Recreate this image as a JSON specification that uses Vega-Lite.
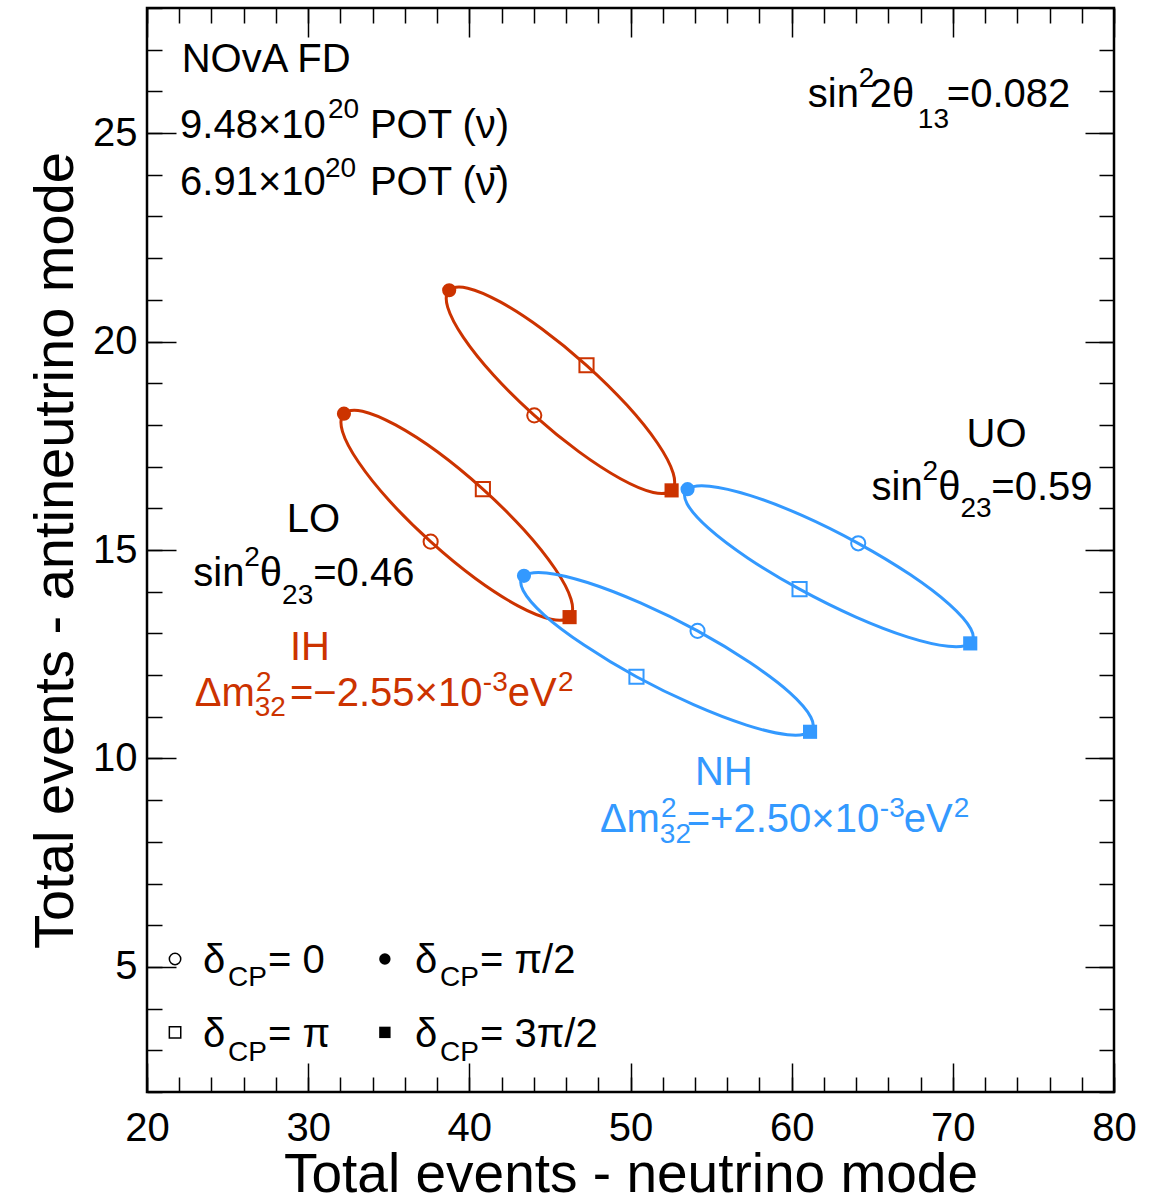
{
  "$schema": "https://vega.github.io/schema/vega-lite/v6.json",
  "width": 967,
  "height": 1084,
  "autosize": {"type": "none"},
  "padding": {"left": 147, "top": 8, "right": 39, "bottom": 111},
  "background": "white",
  "config": {
    "view": {"stroke": "black", "strokeWidth": 2.5},
    "font": "Liberation Sans",
    "axis": {
      "domain": false,
      "grid": false,
      "tickColor": "black",
      "tickWidth": 1.5,
      "labelColor": "black",
      "labelFont": "Liberation Sans",
      "titleFont": "Liberation Sans",
      "titleColor": "black",
      "titleFontWeight": "normal"
    }
  },
  "datasets": {
    "curve": [
      {"e": "ihuo", "g": "ih", "k": 0, "x": 44.03, "y": 18.23, "dcp": "0"},
      {"e": "ihuo", "g": "ih", "k": 1, "x": 41.51, "y": 19.19},
      {"e": "ihuo", "g": "ih", "k": 2, "x": 39.63, "y": 20.10},
      {"e": "ihuo", "g": "ih", "k": 3, "x": 38.66, "y": 20.82},
      {"e": "ihuo", "g": "ih", "k": 4, "x": 38.75, "y": 21.23, "dcp": "π/2"},
      {"e": "ihuo", "g": "ih", "k": 5, "x": 39.90, "y": 21.28},
      {"e": "ihuo", "g": "ih", "k": 6, "x": 41.92, "y": 20.95},
      {"e": "ihuo", "g": "ih", "k": 7, "x": 44.51, "y": 20.30},
      {"e": "ihuo", "g": "ih", "k": 8, "x": 47.27, "y": 19.43, "dcp": "π"},
      {"e": "ihuo", "g": "ih", "k": 9, "x": 49.79, "y": 18.47},
      {"e": "ihuo", "g": "ih", "k": 10, "x": 51.68, "y": 17.56},
      {"e": "ihuo", "g": "ih", "k": 11, "x": 52.65, "y": 16.84},
      {"e": "ihuo", "g": "ih", "k": 12, "x": 52.55, "y": 16.43, "dcp": "3π/2"},
      {"e": "ihuo", "g": "ih", "k": 13, "x": 51.41, "y": 16.38},
      {"e": "ihuo", "g": "ih", "k": 14, "x": 49.38, "y": 16.71},
      {"e": "ihuo", "g": "ih", "k": 15, "x": 46.79, "y": 17.36},

      {"e": "ihlo", "g": "ih", "k": 0, "x": 37.60, "y": 15.20, "dcp": "0"},
      {"e": "ihlo", "g": "ih", "k": 1, "x": 35.04, "y": 16.18},
      {"e": "ihlo", "g": "ih", "k": 2, "x": 33.12, "y": 17.11},
      {"e": "ihlo", "g": "ih", "k": 3, "x": 32.13, "y": 17.84},
      {"e": "ihlo", "g": "ih", "k": 4, "x": 32.22, "y": 18.27, "dcp": "π/2"},
      {"e": "ihlo", "g": "ih", "k": 5, "x": 33.37, "y": 18.33},
      {"e": "ihlo", "g": "ih", "k": 6, "x": 35.42, "y": 18.00},
      {"e": "ihlo", "g": "ih", "k": 7, "x": 38.04, "y": 17.35},
      {"e": "ihlo", "g": "ih", "k": 8, "x": 40.84, "y": 16.46, "dcp": "π"},
      {"e": "ihlo", "g": "ih", "k": 9, "x": 43.40, "y": 15.48},
      {"e": "ihlo", "g": "ih", "k": 10, "x": 45.32, "y": 14.55},
      {"e": "ihlo", "g": "ih", "k": 11, "x": 46.31, "y": 13.82},
      {"e": "ihlo", "g": "ih", "k": 12, "x": 46.22, "y": 13.39, "dcp": "3π/2"},
      {"e": "ihlo", "g": "ih", "k": 13, "x": 45.07, "y": 13.34},
      {"e": "ihlo", "g": "ih", "k": 14, "x": 43.02, "y": 13.66},
      {"e": "ihlo", "g": "ih", "k": 15, "x": 40.40, "y": 14.31},

      {"e": "nhuo", "g": "nh", "k": 0, "x": 64.13, "y": 15.16, "dcp": "0"},
      {"e": "nhuo", "g": "nh", "k": 1, "x": 60.64, "y": 15.83},
      {"e": "nhuo", "g": "nh", "k": 2, "x": 57.40, "y": 16.31},
      {"e": "nhuo", "g": "nh", "k": 3, "x": 54.90, "y": 16.53},
      {"e": "nhuo", "g": "nh", "k": 4, "x": 53.54, "y": 16.46, "dcp": "π/2"},
      {"e": "nhuo", "g": "nh", "k": 5, "x": 53.51, "y": 16.11},
      {"e": "nhuo", "g": "nh", "k": 6, "x": 54.82, "y": 15.53},
      {"e": "nhuo", "g": "nh", "k": 7, "x": 57.27, "y": 14.81},
      {"e": "nhuo", "g": "nh", "k": 8, "x": 60.49, "y": 14.06, "dcp": "π"},
      {"e": "nhuo", "g": "nh", "k": 9, "x": 63.99, "y": 13.39},
      {"e": "nhuo", "g": "nh", "k": 10, "x": 67.22, "y": 12.91},
      {"e": "nhuo", "g": "nh", "k": 11, "x": 69.72, "y": 12.69},
      {"e": "nhuo", "g": "nh", "k": 12, "x": 71.08, "y": 12.76, "dcp": "3π/2"},
      {"e": "nhuo", "g": "nh", "k": 13, "x": 71.11, "y": 13.11},
      {"e": "nhuo", "g": "nh", "k": 14, "x": 69.80, "y": 13.69},
      {"e": "nhuo", "g": "nh", "k": 15, "x": 67.35, "y": 14.41},

      {"e": "nhlo", "g": "nh", "k": 0, "x": 54.16, "y": 13.06, "dcp": "0"},
      {"e": "nhlo", "g": "nh", "k": 1, "x": 50.62, "y": 13.73},
      {"e": "nhlo", "g": "nh", "k": 2, "x": 47.33, "y": 14.22},
      {"e": "nhlo", "g": "nh", "k": 3, "x": 44.79, "y": 14.45},
      {"e": "nhlo", "g": "nh", "k": 4, "x": 43.39, "y": 14.38, "dcp": "π/2"},
      {"e": "nhlo", "g": "nh", "k": 5, "x": 43.34, "y": 14.03},
      {"e": "nhlo", "g": "nh", "k": 6, "x": 44.65, "y": 13.44},
      {"e": "nhlo", "g": "nh", "k": 7, "x": 47.12, "y": 12.72},
      {"e": "nhlo", "g": "nh", "k": 8, "x": 50.37, "y": 11.96, "dcp": "π"},
      {"e": "nhlo", "g": "nh", "k": 9, "x": 53.91, "y": 11.29},
      {"e": "nhlo", "g": "nh", "k": 10, "x": 57.20, "y": 10.80},
      {"e": "nhlo", "g": "nh", "k": 11, "x": 59.74, "y": 10.57},
      {"e": "nhlo", "g": "nh", "k": 12, "x": 61.14, "y": 10.64, "dcp": "3π/2"},
      {"e": "nhlo", "g": "nh", "k": 13, "x": 61.19, "y": 10.99},
      {"e": "nhlo", "g": "nh", "k": 14, "x": 59.88, "y": 11.58},
      {"e": "nhlo", "g": "nh", "k": 15, "x": 57.41, "y": 12.30}
    ],
    "legend": [
      {"x": 21.74, "y": 5.19, "dcp": "0"},
      {"x": 34.76, "y": 5.19, "dcp": "π/2"},
      {"x": 21.74, "y": 3.43, "dcp": "π"},
      {"x": 34.76, "y": 3.43, "dcp": "3π/2"}
    ],
    "labels": [
      {"s": "b", "g": "k", "x": 22.15, "y": 26.47, "t": "NOvA FD"},
      {"s": "b", "g": "k", "x": 22.05, "y": 24.87, "t": "9.48×10"},
      {"s": "b", "g": "k", "x": 33.83, "y": 24.87, "t": "POT (ν)"},
      {"s": "b", "g": "k", "x": 22.05, "y": 23.51, "t": "6.91×10"},
      {"s": "b", "g": "k", "x": 33.83, "y": 23.51, "t": "POT (ν̄)"},
      {"s": "b", "g": "k", "x": 61.00, "y": 25.63, "t": "sin"},
      {"s": "b", "g": "k", "x": 64.85, "y": 25.63, "t": "2θ"},
      {"s": "b", "g": "k", "x": 69.63, "y": 25.63, "t": "=0.082"},
      {"s": "b", "g": "k", "x": 70.85, "y": 17.48, "t": "UO"},
      {"s": "b", "g": "k", "x": 64.96, "y": 16.21, "t": "sin"},
      {"s": "b", "g": "k", "x": 69.09, "y": 16.21, "t": "θ"},
      {"s": "b", "g": "k", "x": 72.39, "y": 16.21, "t": "=0.59"},
      {"s": "b", "g": "k", "x": 28.67, "y": 15.44, "t": "LO"},
      {"s": "b", "g": "k", "x": 22.87, "y": 14.13, "t": "sin"},
      {"s": "b", "g": "k", "x": 27.00, "y": 14.13, "t": "θ"},
      {"s": "b", "g": "k", "x": 30.31, "y": 14.13, "t": "=0.46"},
      {"s": "b", "g": "ih", "x": 28.87, "y": 12.35, "t": "IH"},
      {"s": "b", "g": "ih", "x": 22.96, "y": 11.27, "t": "Δm"},
      {"s": "b", "g": "ih", "x": 28.87, "y": 11.27, "t": "=−2.55×10"},
      {"s": "b", "g": "ih", "x": 42.39, "y": 11.27, "t": "eV"},
      {"s": "b", "g": "nh", "x": 54.00, "y": 9.36, "t": "NH"},
      {"s": "b", "g": "nh", "x": 48.10, "y": 8.23, "t": "Δm"},
      {"s": "b", "g": "nh", "x": 53.49, "y": 8.23, "t": "=+2.50×10"},
      {"s": "b", "g": "nh", "x": 66.96, "y": 8.23, "t": "eV"},
      {"s": "b", "g": "k", "x": 23.47, "y": 4.85, "t": "δ"},
      {"s": "b", "g": "k", "x": 27.51, "y": 4.85, "t": "= 0"},
      {"s": "b", "g": "k", "x": 36.63, "y": 4.85, "t": "δ"},
      {"s": "b", "g": "k", "x": 40.66, "y": 4.85, "t": "= π/2"},
      {"s": "b", "g": "k", "x": 23.47, "y": 3.09, "t": "δ"},
      {"s": "b", "g": "k", "x": 27.51, "y": 3.09, "t": "= π"},
      {"s": "b", "g": "k", "x": 36.63, "y": 3.09, "t": "δ"},
      {"s": "b", "g": "k", "x": 40.66, "y": 3.09, "t": "= 3π/2"},
      {"s": "s", "g": "k", "x": 31.23, "y": 25.35, "t": "20"},
      {"s": "s", "g": "k", "x": 31.04, "y": 23.955, "t": "20"},
      {"s": "s", "g": "k", "x": 64.17, "y": 26.10, "t": "2"},
      {"s": "s", "g": "k", "x": 67.83, "y": 25.13, "t": "13"},
      {"s": "s", "g": "k", "x": 68.12, "y": 16.69, "t": "2"},
      {"s": "s", "g": "k", "x": 70.47, "y": 15.78, "t": "23"},
      {"s": "s", "g": "k", "x": 26.04, "y": 14.61, "t": "2"},
      {"s": "s", "g": "k", "x": 28.38, "y": 13.70, "t": "23"},
      {"s": "s", "g": "ih", "x": 26.76, "y": 11.63, "t": "2"},
      {"s": "s", "g": "ih", "x": 26.68, "y": 11.02, "t": "32"},
      {"s": "s", "g": "ih", "x": 40.84, "y": 11.63, "t": "-3"},
      {"s": "s", "g": "ih", "x": 45.50, "y": 11.63, "t": "2"},
      {"s": "s", "g": "nh", "x": 51.89, "y": 8.59, "t": "2"},
      {"s": "s", "g": "nh", "x": 51.82, "y": 7.97, "t": "32"},
      {"s": "s", "g": "nh", "x": 65.47, "y": 8.59, "t": "-3"},
      {"s": "s", "g": "nh", "x": 70.06, "y": 8.59, "t": "2"},
      {"s": "s", "g": "k", "x": 25.02, "y": 4.54, "t": "CP"},
      {"s": "s", "g": "k", "x": 38.18, "y": 4.54, "t": "CP"},
      {"s": "s", "g": "k", "x": 25.02, "y": 2.74, "t": "CP"},
      {"s": "s", "g": "k", "x": 38.18, "y": 2.74, "t": "CP"}
    ]
  },
  "resolve": {"axis": {"x": "independent", "y": "independent"}},
  "layer": [
    {
      "data": {"name": "curve"},
      "mark": {"type": "line", "interpolate": "cardinal-closed", "strokeWidth": 3},
      "encoding": {
        "x": {"field": "x", "type": "quantitative",
          "scale": {"domain": [20, 80], "nice": false, "zero": false},
          "axis": {"orient": "bottom", "values": [20, 30, 40, 50, 60, 70, 80], "ticks": false,
            "labelFontSize": 40, "labelPadding": 16, "labelFlush": false, "labelOverlap": false,
            "title": "Total events - neutrino mode", "titleFontSize": 55, "titlePadding": 0}},
        "y": {"field": "y", "type": "quantitative",
          "scale": {"domain": [2, 28], "nice": false, "zero": false},
          "axis": {"orient": "left", "values": [5, 10, 15, 20, 25], "ticks": false,
            "labelFontSize": 40, "labelPadding": 10, "labelFlush": false, "labelOverlap": false,
            "title": "Total events - antineutrino mode", "titleFontSize": 56, "titlePadding": 8}},
        "color": {"field": "g", "type": "nominal",
          "scale": {"domain": ["k", "ih", "nh"], "range": ["#000000", "#cc3300", "#3399ff"]}, "legend": null},
        "detail": {"field": "e"},
        "order": {"field": "k", "type": "quantitative"}
      }
    },
    {
      "data": {"name": "curve"},
      "transform": [{"filter": {"field": "dcp", "oneOf": ["0", "π"]}}],
      "mark": {"type": "point", "filled": false, "size": 200, "strokeWidth": 2, "opacity": 1},
      "encoding": {
        "x": {"field": "x", "type": "quantitative",
          "scale": {"domain": [20, 80], "nice": false, "zero": false},
          "axis": {"orient": "bottom", "values": [20, 22, 24, 26, 28, 30, 32, 34, 36, 38, 40, 42, 44, 46, 48, 50, 52, 54, 56, 58, 60, 62, 64, 66, 68, 70, 72, 74, 76, 78, 80],
            "tickSize": -15, "labels": false, "title": null}},
        "y": {"field": "y", "type": "quantitative",
          "scale": {"domain": [2, 28], "nice": false, "zero": false},
          "axis": {"orient": "left", "values": [2, 3, 4, 5, 6, 7, 8, 9, 10, 11, 12, 13, 14, 15, 16, 17, 18, 19, 20, 21, 22, 23, 24, 25, 26, 27, 28],
            "tickSize": -15, "labels": false, "title": null}},
        "color": {"field": "g", "type": "nominal",
          "scale": {"domain": ["k", "ih", "nh"], "range": ["#000000", "#cc3300", "#3399ff"]}, "legend": null},
        "shape": {"field": "dcp", "type": "nominal",
          "scale": {"domain": ["0", "π/2", "π", "3π/2"], "range": ["circle", "circle", "square", "square"]}, "legend": null}
      }
    },
    {
      "data": {"name": "curve"},
      "transform": [{"filter": {"field": "dcp", "oneOf": ["π/2", "3π/2"]}}],
      "mark": {"type": "point", "filled": true, "size": 200, "opacity": 1},
      "encoding": {
        "x": {"field": "x", "type": "quantitative",
          "scale": {"domain": [20, 80], "nice": false, "zero": false}, "axis": null},
        "y": {"field": "y", "type": "quantitative",
          "scale": {"domain": [2, 28], "nice": false, "zero": false}, "axis": null},
        "color": {"field": "g", "type": "nominal",
          "scale": {"domain": ["k", "ih", "nh"], "range": ["#000000", "#cc3300", "#3399ff"]}, "legend": null},
        "shape": {"field": "dcp", "type": "nominal",
          "scale": {"domain": ["0", "π/2", "π", "3π/2"], "range": ["circle", "circle", "square", "square"]}, "legend": null}
      }
    },
    {
      "data": {"name": "legend"},
      "transform": [{"filter": {"field": "dcp", "oneOf": ["0", "π"]}}],
      "mark": {"type": "point", "filled": false, "size": 130, "strokeWidth": 1.5, "color": "black", "opacity": 1},
      "encoding": {
        "x": {"field": "x", "type": "quantitative",
          "scale": {"domain": [20, 80], "nice": false, "zero": false},
          "axis": {"orient": "bottom", "values": [20, 30, 40, 50, 60, 70, 80],
            "tickSize": -29, "labels": false, "title": null}},
        "y": {"field": "y", "type": "quantitative",
          "scale": {"domain": [2, 28], "nice": false, "zero": false},
          "axis": {"orient": "left", "values": [5, 10, 15, 20, 25],
            "tickSize": -29, "labels": false, "title": null}},
        "shape": {"field": "dcp", "type": "nominal",
          "scale": {"domain": ["0", "π/2", "π", "3π/2"], "range": ["circle", "circle", "square", "square"]}, "legend": null}
      }
    },
    {
      "data": {"name": "legend"},
      "transform": [{"filter": {"field": "dcp", "oneOf": ["π/2", "3π/2"]}}],
      "mark": {"type": "point", "filled": true, "size": 130, "color": "black", "opacity": 1},
      "encoding": {
        "x": {"field": "x", "type": "quantitative",
          "scale": {"domain": [20, 80], "nice": false, "zero": false}, "axis": null},
        "y": {"field": "y", "type": "quantitative",
          "scale": {"domain": [2, 28], "nice": false, "zero": false}, "axis": null},
        "shape": {"field": "dcp", "type": "nominal",
          "scale": {"domain": ["0", "π/2", "π", "3π/2"], "range": ["circle", "circle", "square", "square"]}, "legend": null}
      }
    },
    {
      "data": {"name": "labels"},
      "transform": [{"filter": "datum.s === 'b'"}],
      "mark": {"type": "text", "font": "Liberation Sans", "fontSize": 40, "align": "left", "baseline": "alphabetic"},
      "encoding": {
        "x": {"field": "x", "type": "quantitative",
          "scale": {"domain": [20, 80], "nice": false, "zero": false},
          "axis": {"orient": "top", "values": [20, 22, 24, 26, 28, 30, 32, 34, 36, 38, 40, 42, 44, 46, 48, 50, 52, 54, 56, 58, 60, 62, 64, 66, 68, 70, 72, 74, 76, 78, 80],
            "tickSize": -15, "labels": false, "title": null}},
        "y": {"field": "y", "type": "quantitative",
          "scale": {"domain": [2, 28], "nice": false, "zero": false},
          "axis": {"orient": "right", "values": [2, 3, 4, 5, 6, 7, 8, 9, 10, 11, 12, 13, 14, 15, 16, 17, 18, 19, 20, 21, 22, 23, 24, 25, 26, 27, 28],
            "tickSize": -15, "labels": false, "title": null}},
        "text": {"field": "t"},
        "color": {"field": "g", "type": "nominal",
          "scale": {"domain": ["k", "ih", "nh"], "range": ["#000000", "#cc3300", "#3399ff"]}, "legend": null}
      }
    },
    {
      "data": {"name": "labels"},
      "transform": [{"filter": "datum.s === 's'"}],
      "mark": {"type": "text", "font": "Liberation Sans", "fontSize": 28, "align": "left", "baseline": "alphabetic"},
      "encoding": {
        "x": {"field": "x", "type": "quantitative",
          "scale": {"domain": [20, 80], "nice": false, "zero": false},
          "axis": {"orient": "top", "values": [20, 30, 40, 50, 60, 70, 80],
            "tickSize": -29, "labels": false, "title": null}},
        "y": {"field": "y", "type": "quantitative",
          "scale": {"domain": [2, 28], "nice": false, "zero": false},
          "axis": {"orient": "right", "values": [5, 10, 15, 20, 25],
            "tickSize": -29, "labels": false, "title": null}},
        "text": {"field": "t"},
        "color": {"field": "g", "type": "nominal",
          "scale": {"domain": ["k", "ih", "nh"], "range": ["#000000", "#cc3300", "#3399ff"]}, "legend": null}
      }
    }
  ]
}
